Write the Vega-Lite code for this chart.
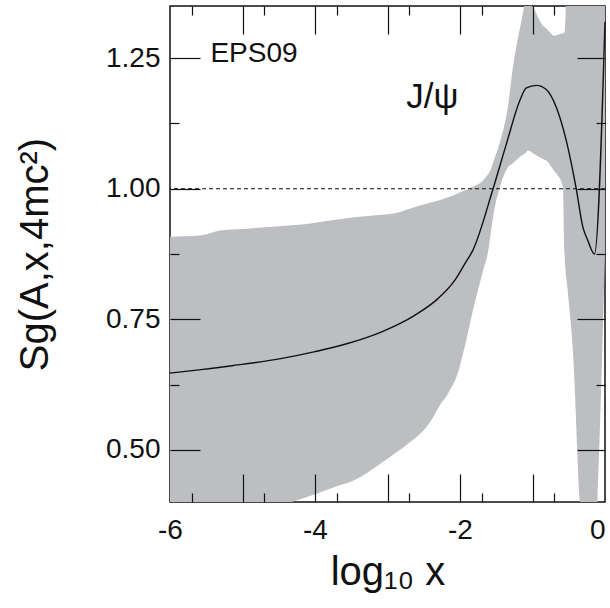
{
  "$schema": "https://vega.github.io/schema/vega-lite/v6.json",
  "width": 435,
  "height": 496,
  "autosize": {"type": "none"},
  "padding": {"left": 170, "top": 6, "right": 5, "bottom": 106},
  "background": "white",
  "config": {
    "view": {"stroke": "#111111", "strokeWidth": 1.5},
    "axis": {
      "domain": false,
      "grid": false,
      "labelFont": "Liberation Sans",
      "labelFontSize": 28,
      "labelColor": "#111111",
      "titleFont": "Liberation Sans",
      "titleFontWeight": "normal",
      "titleColor": "#111111"
    }
  },
  "datasets": {
    "band": [
      {"x": -6, "lo": 0.2, "hi": 0.908},
      {"x": -5.56, "lo": 0.253, "hi": 0.911},
      {"x": -5.31, "lo": 0.283, "hi": 0.92},
      {"x": -5, "lo": 0.325, "hi": 0.923},
      {"x": -4.32, "lo": 0.4, "hi": 0.93},
      {"x": -4.14, "lo": 0.408, "hi": 0.932},
      {"x": -4.0, "lo": 0.415, "hi": 0.935},
      {"x": -3.59, "lo": 0.435, "hi": 0.943},
      {"x": -3.54, "lo": 0.437, "hi": 0.944},
      {"x": -3.08, "lo": 0.475, "hi": 0.95},
      {"x": -2.9, "lo": 0.493, "hi": 0.953},
      {"x": -2.76, "lo": 0.507, "hi": 0.959},
      {"x": -2.39, "lo": 0.558, "hi": 0.974},
      {"x": -2.28, "lo": 0.585, "hi": 0.978},
      {"x": -2.16, "lo": 0.609, "hi": 0.984},
      {"x": -2.03, "lo": 0.647, "hi": 0.991},
      {"x": -1.93, "lo": 0.7, "hi": 0.997},
      {"x": -1.865, "lo": 0.74, "hi": 1.0},
      {"x": -1.82, "lo": 0.768, "hi": 1.004},
      {"x": -1.68, "lo": 0.844, "hi": 1.016},
      {"x": -1.61, "lo": 0.882, "hi": 1.028},
      {"x": -1.59, "lo": 0.901, "hi": 1.032},
      {"x": -1.544, "lo": 0.946, "hi": 1.05},
      {"x": -1.45, "lo": 1.003, "hi": 1.089},
      {"x": -1.34, "lo": 1.041, "hi": 1.156},
      {"x": -1.27, "lo": 1.049, "hi": 1.232},
      {"x": -1.153, "lo": 1.063, "hi": 1.321},
      {"x": -1.085, "lo": 1.07, "hi": 1.36},
      {"x": -1.063, "lo": 1.073, "hi": 1.357},
      {"x": -0.994, "lo": 1.068, "hi": 1.347},
      {"x": -0.856, "lo": 1.057, "hi": 1.312},
      {"x": -0.81, "lo": 1.054, "hi": 1.307},
      {"x": -0.695, "lo": 1.033, "hi": 1.293},
      {"x": -0.672, "lo": 1.029, "hi": 1.294},
      {"x": -0.58, "lo": 1.003, "hi": 1.298},
      {"x": -0.56, "lo": 0.88, "hi": 1.299},
      {"x": -0.51, "lo": 0.799, "hi": 1.45},
      {"x": -0.443, "lo": 0.691, "hi": 1.478},
      {"x": -0.35, "lo": 0.405, "hi": 1.52},
      {"x": -0.25, "lo": 0.22, "hi": 1.56},
      {"x": -0.145, "lo": 0.3, "hi": 1.6},
      {"x": 0, "lo": 0.88, "hi": 1.6}
    ],
    "central": [
      {"x": -6, "y": 0.647},
      {"x": -5.6, "y": 0.653},
      {"x": -5.144, "y": 0.661},
      {"x": -4.456, "y": 0.675},
      {"x": -4.0, "y": 0.688},
      {"x": -3.54, "y": 0.704},
      {"x": -3.08, "y": 0.726},
      {"x": -2.62, "y": 0.758},
      {"x": -2.3, "y": 0.79},
      {"x": -2.07, "y": 0.825},
      {"x": -1.93, "y": 0.857},
      {"x": -1.82, "y": 0.883},
      {"x": -1.544, "y": 1.0},
      {"x": -1.36, "y": 1.086},
      {"x": -1.177, "y": 1.168},
      {"x": -1.085, "y": 1.193},
      {"x": -0.947, "y": 1.198},
      {"x": -0.81, "y": 1.19},
      {"x": -0.672, "y": 1.156},
      {"x": -0.534, "y": 1.092},
      {"x": -0.397, "y": 1.0},
      {"x": -0.306, "y": 0.927},
      {"x": -0.237, "y": 0.901},
      {"x": -0.145, "y": 0.875},
      {"x": 0, "y": 1.32}
    ],
    "unity": [{"y": 1}],
    "labels": [
      {"x": -5.443, "y": 1.258, "t": "EPS09", "kind": "a"},
      {"x": -2.74, "y": 1.155, "t": "J/ψ", "kind": "b"}
    ]
  },
  "layer": [
    {
      "data": {"name": "band"},
      "mark": {"type": "area", "color": "#bcbec1", "clip": true, "interpolate": "monotone"},
      "encoding": {
        "x": {
          "field": "x", "type": "quantitative",
          "scale": {"domain": [-6, 0], "nice": false},
          "axis": {
            "orient": "bottom", "values": [-6, -4, -2, 0], "ticks": false, "zindex": 1,
            "labelPadding": 14, "labelFlush": false,
            "labelAlign": {"condition": {"test": "datum.value == 0", "value": "right"}, "value": "center"},
            "labelExpr": "datum.value == 0 ? '0' : '-' + abs(datum.value)",
            "title": "log₁₀ x", "titleFontSize": 40, "titlePadding": 8
          }
        },
        "y": {
          "field": "lo", "type": "quantitative",
          "scale": {"domain": [0.4, 1.35], "nice": false, "zero": false},
          "axis": {
            "orient": "left", "values": [0.5, 0.75, 1, 1.25], "ticks": false, "zindex": 1,
            "format": ".2f", "labelPadding": 10,
            "title": "Sg(A,x,4mc²)", "titleFontSize": 40, "titlePadding": 50
          }
        },
        "y2": {"field": "hi"}
      }
    },
    {
      "data": {"name": "central"},
      "mark": {"type": "line", "color": "#111111", "strokeWidth": 1.4, "interpolate": "monotone"},
      "encoding": {
        "x": {
          "field": "x", "type": "quantitative",
          "scale": {"domain": [-6, 0], "nice": false},
          "axis": {
            "orient": "bottom", "zindex": 2, "ticks": true, "tickColor": "#111111", "tickWidth": 1.2,
            "values": [-5.699, -5, -4.699, -4, -3.699, -3, -2.699, -2, -1.699, -1, -0.699],
            "tickSize": {"condition": {"test": "abs(datum.value - round(datum.value)) < 0.001", "value": -28}, "value": -9},
            "labels": true, "labelExpr": "''", "title": null
          }
        },
        "y": {
          "field": "y", "type": "quantitative",
          "scale": {"domain": [0.4, 1.35], "nice": false, "zero": false},
          "axis": {
            "orient": "left", "zindex": 2, "ticks": true, "tickColor": "#111111", "tickWidth": 1.2,
            "values": [0.5, 0.625, 0.75, 0.875, 1, 1.125, 1.25],
            "tickSize": {"condition": {"test": "abs(datum.value * 4 - round(datum.value * 4)) < 0.001", "value": -30}, "value": -9},
            "labels": true, "labelExpr": "''", "title": null
          }
        }
      }
    },
    {
      "data": {"name": "unity"},
      "mark": {"type": "rule", "color": "#111111", "strokeWidth": 1, "strokeDash": [4, 3]},
      "encoding": {
        "y": {
          "field": "y", "type": "quantitative",
          "scale": {"domain": [0.4, 1.35], "nice": false, "zero": false},
          "axis": {
            "orient": "right", "zindex": 2, "ticks": true, "tickColor": "#111111", "tickWidth": 1.2,
            "values": [0.5, 0.625, 0.75, 0.875, 1, 1.125, 1.25],
            "tickSize": {"condition": {"test": "abs(datum.value * 4 - round(datum.value * 4)) < 0.001", "value": -28}, "value": -9},
            "labels": true, "labelExpr": "''", "title": null
          }
        }
      }
    },
    {
      "data": {"name": "labels"},
      "transform": [{"filter": "datum.kind == 'a'"}],
      "mark": {"type": "text", "align": "left", "baseline": "middle", "font": "Liberation Sans", "fontSize": 28, "color": "#111111"},
      "encoding": {
        "x": {
          "field": "x", "type": "quantitative",
          "scale": {"domain": [-6, 0], "nice": false},
          "axis": {
            "orient": "top", "zindex": 2, "ticks": true, "tickColor": "#111111", "tickWidth": 1.2,
            "values": [-5.699, -5, -4.699, -4, -3.699, -3, -2.699, -2, -1.699, -1, -0.699],
            "tickSize": {"condition": {"test": "abs(datum.value - round(datum.value)) < 0.001", "value": -28}, "value": -9},
            "labels": true, "labelExpr": "''", "title": null
          }
        },
        "y": {"field": "y", "type": "quantitative", "scale": {"domain": [0.4, 1.35], "nice": false, "zero": false}, "axis": null},
        "text": {"field": "t"}
      }
    },
    {
      "data": {"name": "labels"},
      "transform": [{"filter": "datum.kind == 'b'"}],
      "mark": {"type": "text", "align": "left", "baseline": "alphabetic", "font": "Liberation Sans", "fontSize": 35, "color": "#111111"},
      "encoding": {
        "x": {"field": "x", "type": "quantitative", "scale": {"domain": [-6, 0], "nice": false}, "axis": null},
        "y": {"field": "y", "type": "quantitative", "scale": {"domain": [0.4, 1.35], "nice": false, "zero": false}, "axis": null},
        "text": {"field": "t"}
      }
    }
  ],
  "resolve": {"axis": {"x": "independent", "y": "independent"}}
}
